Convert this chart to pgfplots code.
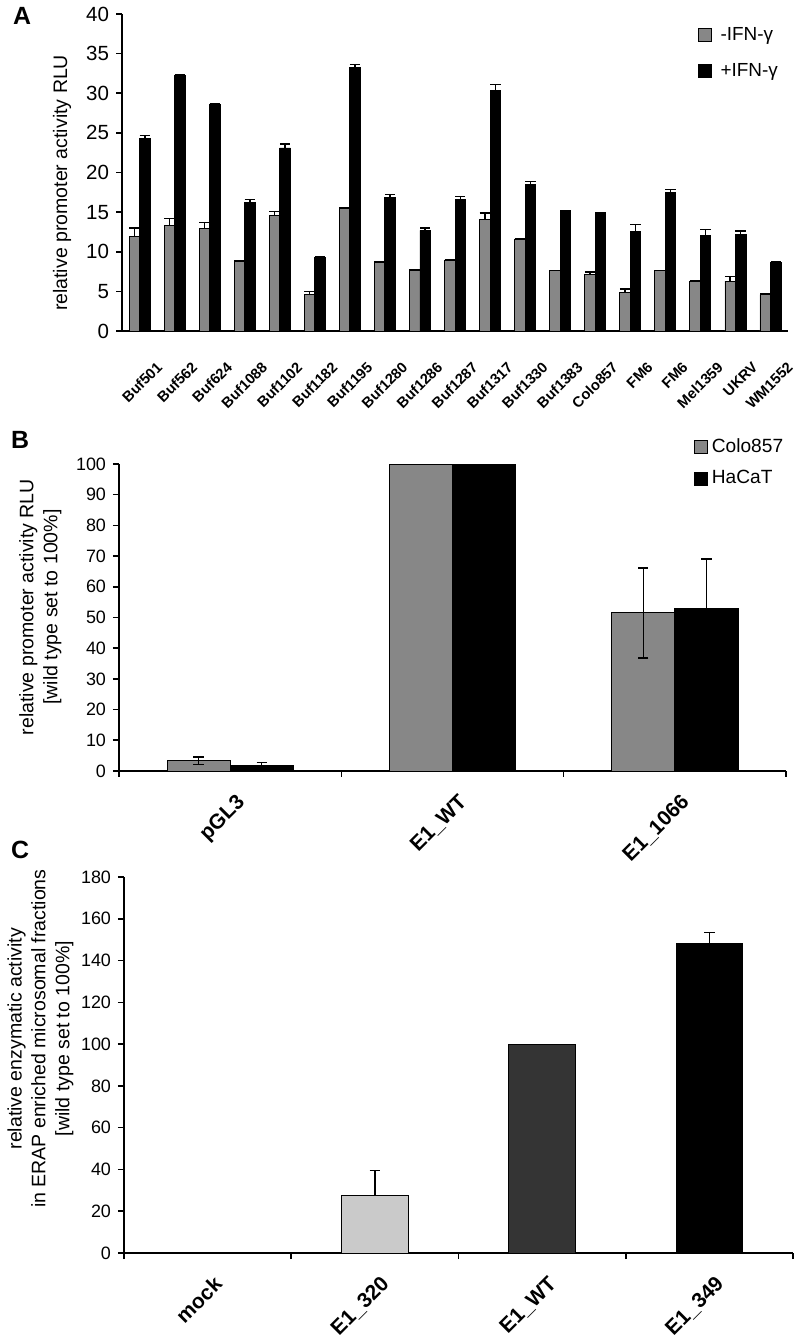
\documentclass[border=0pt]{standalone}
\usepackage{fontspec}
\setmainfont{Liberation Sans}
\usepackage{pgfplots}
\pgfplotsset{compat=1.18}
\usepackage{pgfplotstable}

\definecolor{midgray}{HTML}{878787}
\definecolor{lightgr}{HTML}{CACACA}
\definecolor{darkgr}{HTML}{343434}

\pgfplotstableread{
x g ge b be
0 11.9 1.1 24.3 0.35
1 13.3 0.9 32.3 0.05
2 12.9 0.8 28.6 0.05
3 8.8 0.1 16.2 0.4
4 14.6 0.5 23.1 0.5
5 4.6 0.4 9.3 0.1
6 15.5 0.1 33.2 0.4
7 8.6 0.1 16.8 0.4
8 7.6 0.1 12.7 0.3
9 8.9 0.05 16.6 0.35
10 14.1 0.8 30.3 0.8
11 11.6 0.05 18.5 0.35
12 7.6 0.05 15.1 0.05
13 7.1 0.35 14.9 0.05
14 4.9 0.4 12.6 0.85
15 7.6 0.05 17.5 0.35
16 6.3 0.05 12.0 0.8
17 6.3 0.6 12.2 0.4
18 4.6 0.05 8.7 0.05
}\dataA

% pGL3 and E1_1066 (with error bars)
\pgfplotstableread{
x g ge b be
0 3.3 1.2 1.9 0.9
2 51.5 14.7 53 16
}\dataB
% E1_WT (no error bars)
\pgfplotstableread{
x g b
1 100 100
}\dataBwt

\pgfplotsset{
  myaxis/.style={
    scale only axis, anchor=south west,
    axis x line*=bottom, axis y line*=left,
    axis line style={line width=1bp, black},
    tick align=outside, major tick length=3bp,
    tick style={line width=0.8bp, black},
    /pgf/number format/assume math mode=true,
    yticklabel style={font=\fontsize{9}{10}\selectfont},
    ylabel style={font=\fontsize{9.8}{12}\selectfont, align=center, anchor=center},
    legend cell align=left,
  },
  sqlegend/.style={legend image code/.code={\draw[##1, line width=0.4bp] (0bp,-3.2bp) rectangle (6.4bp,3.2bp);}},
  sqlegendA/.style={legend image code/.code={\draw[##1, line width=0.4bp] (0bp,-3.2bp) rectangle (6.4bp,3.2bp); \path (9bp,0bp);}},
  errA/.style={error bars/.cd, y dir=plus, y explicit,
    error bar style={line width=0.75bp, black},
    error mark options={rotate=90, mark size=2.6bp, line width=0.75bp, black}},
  errB/.style={error bars/.cd, y dir=both, y explicit,
    error bar style={line width=0.75bp, black},
    error mark options={rotate=90, mark size=2.6bp, line width=0.75bp, black}},
}

\begin{document}
\begin{tikzpicture}
\useasboundingbox (0,0) rectangle (397.5bp,671bp);

% ---------------- Panel A
\begin{axis}[myaxis,
  at={(61bp,505.5bp)}, width=333bp, height=158.5bp,
  xmin=-0.5, xmax=18.5, ymin=0, ymax=40,
  ytick={0,5,...,40},
  yticklabel style={font=\fontsize{10.3}{11}\selectfont},
  xtick={0,...,18}, xtick style={draw=none},
  xticklabels={Buf501,Buf562,Buf624,Buf1088,Buf1102,Buf1182,Buf1195,Buf1280,Buf1286,Buf1287,Buf1317,Buf1330,Buf1383,Colo857,FM6,FM6,Mel1359,UKRV,WM1552},
  xticklabel style={xshift=8bp, yshift=-7bp, rotate=45, anchor=north east, font=\bfseries\fontsize{7.4}{9}\selectfont},
  ylabel={relative promoter activity RLU},
  ylabel style={at={(axis description cs:-0.09,0.467)}},
  ybar, bar width=0.3,
  legend style={draw=none, fill=none, at={(0.855,0.985)}, anchor=north west, font=\fontsize{9.5}{11}\selectfont, row sep=6bp},
]
\addplot[fill=midgray, draw=black, line width=0.4bp, bar shift=-0.15, sqlegendA, errA] table[x=x, y=g, y error=ge]{\dataA};
\addplot[fill=black, draw=black, line width=0.4bp, bar shift=0.15, sqlegendA, errA] table[x=x, y=b, y error=be]{\dataA};
\legend{-IFN-γ, +IFN-γ}
\end{axis}

% ---------------- Panel B
\begin{axis}[myaxis,
  at={(59.5bp,285.5bp)}, width=333.5bp, height=153.5bp,
  xmin=-0.5, xmax=2.5, ymin=0, ymax=100,
  ytick={0,10,...,100},
  xtick={-0.5,0.5,1.5,2.5}, xticklabels={},
  extra x ticks={0,1,2}, extra x tick labels={pGL3,E1\_WT,E1\_1066},
  extra x tick style={major tick length=0pt,
     xticklabel style={xshift=2.5bp, yshift=-6bp, rotate=45, anchor=north east, font=\bfseries\fontsize{10.5}{12}\selectfont}},
  ylabel={relative promoter activity RLU\\{[}wild type set to 100\%{]}},
  ylabel style={at={(axis description cs:-0.118,0.534)}},
  ybar, bar width=0.284,
  legend style={draw=none, fill=none, at={(0.853,1.11)}, anchor=north west, font=\fontsize{9.6}{11}\selectfont, row sep=3.5bp},
]
\addplot[fill=midgray, draw=black, line width=0.4bp, bar shift=-0.142, sqlegend, errB] table[x=x, y=g, y error=ge]{\dataB};
\addplot[fill=black, draw=black, line width=0.4bp, bar shift=0.142, sqlegend, errB] table[x=x, y=b, y error=be]{\dataB};
\addplot[fill=midgray, draw=black, line width=0.4bp, bar shift=-0.142, forget plot] table[x=x, y=g]{\dataBwt};
\addplot[fill=black, draw=black, line width=0.4bp, bar shift=0.142, forget plot] table[x=x, y=b]{\dataBwt};
\legend{Colo857, HaCaT}
\end{axis}

% ---------------- Panel C
\begin{axis}[myaxis,
  at={(62bp,44.5bp)}, width=334.5bp, height=188bp,
  xmin=-0.5, xmax=3.5, ymin=0, ymax=180,
  ytick={0,20,...,180},
  xtick={-0.5,0.5,1.5,2.5,3.5}, xticklabels={},
  extra x ticks={0,1,2,3}, extra x tick labels={mock,E1\_320,E1\_WT,E1\_349},
  extra x tick style={major tick length=0pt,
     xticklabel style={xshift=2.5bp, yshift=-6bp, rotate=45, anchor=north east, font=\bfseries\fontsize{10.5}{12}\selectfont}},
  ylabel={relative enzymatic activity\\in ERAP enriched microsomal fractions\\{[}wild type set to 100\%{]}},
  ylabel style={at={(axis description cs:-0.125,0.57)}},
  ybar, bar width=0.4,
]
\addplot[draw=none, fill=none, bar shift=0] coordinates {(0,0)};
\addplot[fill=lightgr, draw=black, line width=0.4bp, bar shift=0, errA] coordinates {(1,27.5) +- (0,12)};
\addplot[fill=darkgr, draw=black, line width=0.4bp, bar shift=0] coordinates {(2,100)};
\addplot[fill=black, draw=black, line width=0.4bp, bar shift=0, errA] coordinates {(3,148) +- (0,5.5)};
\end{axis}

\node[font=\bfseries\fontsize{12.5}{14}\selectfont] at (11bp,663bp) {A};
\node[font=\bfseries\fontsize{12.5}{14}\selectfont] at (10bp,451bp) {B};
\node[font=\bfseries\fontsize{12.5}{14}\selectfont] at (10bp,246bp) {C};
\end{tikzpicture}
\end{document}
